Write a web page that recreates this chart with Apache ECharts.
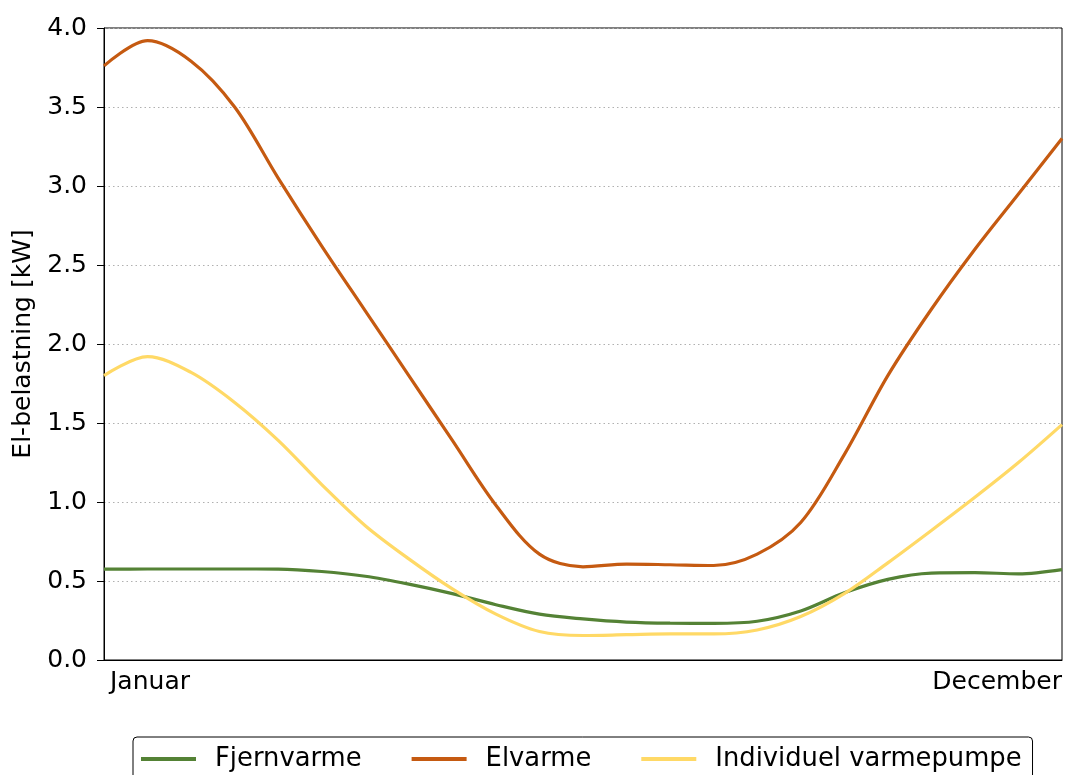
<!DOCTYPE html>
<html>
<head>
<meta charset="utf-8">
<script src="https://cdn.jsdelivr.net/npm/echarts@6/dist/echarts.min.js"></script>
<style>
html,body{margin:0;padding:0;background:#fff;}
#chart{width:1065px;height:775px;}
</style>
</head>
<body>
<div id="chart"></div>
<script>
// Half-month sample points from January to December
const categories = ['Januar','midt-januar','Februar','midt-februar','Marts','midt-marts','April','midt-april','Maj','midt-maj','Juni','midt-juni','Juli','midt-juli','August','midt-august','September','midt-september','Oktober','midt-oktober','November','midt-november','December'];
const fjernvarme = [0.575,0.576,0.576,0.576,0.575,0.56,0.53,0.48,0.42,0.35,0.29,0.26,0.24,0.233,0.232,0.245,0.31,0.425,0.51,0.55,0.553,0.545,0.572];
const elvarme = [3.76,3.92,3.79,3.50,3.05,2.62,2.21,1.80,1.39,0.98,0.67,0.59,0.607,0.603,0.598,0.67,0.87,1.30,1.80,2.22,2.60,2.95,3.30];
const varmepumpe = [1.80,1.92,1.82,1.63,1.39,1.11,0.85,0.64,0.45,0.29,0.18,0.155,0.16,0.165,0.165,0.19,0.275,0.42,0.615,0.82,1.03,1.25,1.49];
const seriesNames = ['Fjernvarme','Elvarme','Individuel varmepumpe'];
const colors = ['#548235','#C55A11','#FFD966'];
const yTicks = {min:0, max:4, interval:0.5};

const font = 'DejaVu Sans';
const fs = 25;
const chart = echarts.init(document.getElementById('chart'), null, {renderer:'canvas'});
const lastIdx = categories.length - 1;
const mk = (name, data, color) => ({
  name, type:'line', data, smooth:0.33, symbol:'none',
  lineStyle:{color, width:3.2}, itemStyle:{color}
});
chart.setOption({
  animation:false,
  backgroundColor:'#fff',
  grid:{left:104, right:2, top:28, bottom:115, show:true, borderColor:'#000', borderWidth:1},
  xAxis:{
    type:'category', data:categories, boundaryGap:false,
    axisLine:{lineStyle:{color:'#000', width:1}},
    axisTick:{show:false},
    splitLine:{show:false},
    axisLabel:{
      interval:(i)=> i===0 || i===lastIdx,
      showMinLabel:true, showMaxLabel:true,
      alignMinLabel:'left', alignMaxLabel:'right',
      padding:[0,0,0,6],
      color:'#000', fontFamily:font, fontSize:fs, margin:10
    }
  },
  yAxis:{
    type:'value', min:yTicks.min, max:yTicks.max, interval:yTicks.interval,
    name:'El-belastning [kW]', nameLocation:'middle', nameGap:62,
    nameTextStyle:{color:'#000', fontFamily:font, fontSize:fs},
    axisLine:{show:true, lineStyle:{color:'#000', width:1}},
    axisTick:{show:true, length:7, lineStyle:{color:'#000', width:1}},
    axisLabel:{color:'#000', fontFamily:font, fontSize:fs, margin:17, formatter:(v)=>v.toFixed(1)},
    splitLine:{show:true, lineStyle:{color:'#b0b0b0', type:[1.5,3], width:1}}
  },
  legend:{
    data:seriesNames, left:133, top:737,
    orient:'horizontal', itemWidth:55, itemHeight:4, itemGap:50, icon:'rect',
    padding:[9,11,12,8],
    borderColor:'#000', borderWidth:1, borderRadius:4,
    textStyle:{color:'#000', fontFamily:font, fontSize:25.8, padding:[0,0,0,14]}
  },
  series:[
    mk(seriesNames[0], fjernvarme, colors[0]),
    mk(seriesNames[1], elvarme, colors[1]),
    mk(seriesNames[2], varmepumpe, colors[2])
  ]
});
</script>
</body>
</html>
